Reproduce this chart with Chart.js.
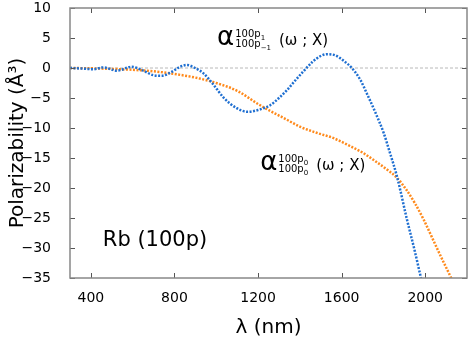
<!DOCTYPE html>
<html>
<head>
<meta charset="utf-8">
<script src="https://cdn.jsdelivr.net/npm/chart.js@4.4.1/dist/chart.umd.min.js"></script>
<style>
  html, body { margin: 0; padding: 0; background: #fff; }
  #wrap { width: 468px; height: 338px; }
</style>
</head>
<body>
<div id="wrap"><canvas id="polChart"></canvas></div>
<script>
// alpha for 100p(m=+1 / m=-1) component
const lambdaP1 = [300, 364, 412, 460, 524, 595, 651, 699, 739, 779, 827, 859, 899, 939, 987, 1034, 1098, 1150, 1200, 1258, 1300, 1338, 1380, 1416, 1460, 1500, 1530, 1570, 1610, 1649, 1690, 1720, 1760, 1801, 1830, 1865, 1913, 1950, 1980, 2010];
const alphaP1 = [0, -0.1, -0.2, 0.1, -0.45, 0.2, -0.45, -1.2, -1.3, -0.8, 0.2, 0.5, 0, -0.9, -2.8, -4.9, -6.7, -7.3, -7.0, -6.2, -5.0, -3.7, -2.0, -0.6, 1.0, 2.0, 2.3, 2.1, 1.2, 0, -2.0, -4.2, -7.3, -10.8, -14.0, -18.1, -25.3, -30.5, -35, -39];

// alpha for 100p(m=0) component
const lambdaP0 = [300, 400, 500, 600, 700, 800, 900, 1000, 1100, 1200, 1260, 1321, 1402, 1480, 1562, 1640, 1700, 1760, 1820, 1865, 1910, 1950, 1993, 2040, 2080, 2124, 2160];
const alphaP0 = [0, -0.05, -0.15, -0.3, -0.55, -1.0, -1.6, -2.5, -3.8, -6.0, -7.2, -8.3, -9.8, -10.8, -11.7, -13.0, -14.1, -15.5, -17.0, -18.3, -20.3, -22.5, -25.3, -28.8, -31.8, -35, -38];

const xTicks = [400, 800, 1200, 1600, 2000];
const yTicks = [-35, -30, -25, -20, -15, -10, -5, 0, 5, 10];

const FONT = '"DejaVu Sans", "Liberation Sans", sans-serif';

function toPoints(xs, ys) {
    return xs.map((x, i) => ({ x: x, y: ys[i] }));
}

function drawAlpha(ctx, x, b, supTail, subTail) {
    ctx.font = '26px ' + FONT;
    ctx.fillText('α', x, b);
    const w = ctx.measureText('α').width + 1;
    ctx.font = '10px ' + FONT;
    const w2 = ctx.measureText('100p').width;
    ctx.fillText('100p', x + w, b - 8);
    ctx.fillText('100p', x + w, b + 2);
    ctx.font = '7px ' + FONT;
    ctx.fillText(supTail, x + w + w2, b - 5);
    ctx.fillText(subTail, x + w + w2, b + 5);
    const w3 = Math.max(ctx.measureText(supTail).width, ctx.measureText(subTail).width);
    ctx.font = '15px ' + FONT;
    ctx.fillText('(ω ; X)', x + w + w2 + w3 + 8, b);
}

const framePlugin = {
    id: 'frame',
    beforeDatasetsDraw(chart) {
        const { ctx, chartArea: a, scales: { y } } = chart;
        const y0 = y.getPixelForValue(0);
        ctx.save();
        ctx.strokeStyle = '#b8b8b8';
        ctx.lineWidth = 1;
        ctx.setLineDash([3, 2]);
        ctx.beginPath();
        ctx.moveTo(a.left, y0);
        ctx.lineTo(a.right, y0);
        ctx.stroke();
        ctx.restore();
    },
    afterDraw(chart) {
        const { ctx, chartArea: a, scales: { x, y } } = chart;
        ctx.save();
        ctx.setLineDash([]);
        ctx.lineWidth = 1;
        ctx.strokeStyle = '#555';
        ctx.beginPath();
        xTicks.forEach(v => {
            const px = Math.round(x.getPixelForValue(v)) + 0.5;
            ctx.moveTo(px, a.bottom); ctx.lineTo(px, a.bottom - 5);
            ctx.moveTo(px, a.top); ctx.lineTo(px, a.top + 5);
        });
        yTicks.forEach(v => {
            const py = Math.round(y.getPixelForValue(v)) + 0.5;
            ctx.moveTo(a.left, py); ctx.lineTo(a.left + 5, py);
            ctx.moveTo(a.right, py); ctx.lineTo(a.right - 5, py);
        });
        ctx.stroke();
        ctx.strokeStyle = '#888';
        ctx.lineWidth = 1.5;
        ctx.strokeRect(a.left, a.top, a.right - a.left, a.bottom - a.top);

        ctx.fillStyle = '#000';
        ctx.textBaseline = 'alphabetic';
        ctx.textAlign = 'left';
        drawAlpha(ctx, x.getPixelForValue(1004), y.getPixelForValue(3.8), '1', '−1');
        drawAlpha(ctx, x.getPixelForValue(1210), y.getPixelForValue(-17), '0', '0');
        ctx.font = '21px ' + FONT;
        ctx.fillText('Rb (100p)', x.getPixelForValue(457), y.getPixelForValue(-29.6));
        ctx.restore();
    }
};

new Chart(document.getElementById('polChart'), {
    type: 'line',
    data: {
        datasets: [{
            label: 'p1',
            data: toPoints(lambdaP1, alphaP1),
            borderColor: '#1f6fd1',
            borderWidth: 2.5,
            borderDash: [2, 1.5],
            pointRadius: 0,
            cubicInterpolationMode: 'monotone',
            clip: 0
        }, {
            label: 'p0',
            data: toPoints(lambdaP0, alphaP0),
            borderColor: '#ff8a1c',
            borderWidth: 2.5,
            borderDash: [2, 1.5],
            pointRadius: 0,
            cubicInterpolationMode: 'monotone',
            clip: 0
        }]
    },
    options: {
        responsive: true,
        maintainAspectRatio: false,
        animation: false,
        layout: { padding: { top: 8, right: 1, left: 0, bottom: 0 } },
        plugins: { legend: { display: false }, tooltip: { enabled: false } },
        scales: {
            x: {
                type: 'linear',
                min: 300,
                max: 2200,
                grid: { display: false },
                border: { display: false },
                afterBuildTicks: s => { s.ticks = xTicks.map(v => ({ value: v })); },
                afterFit: s => { s.height = 60; s.paddingLeft = 0; s.paddingRight = 0; },
                ticks: {
                    color: '#000',
                    padding: 4,
                    font: { family: FONT, size: 14 },
                    callback: v => String(v)
                },
                title: {
                    display: true,
                    text: 'λ (nm)',
                    color: '#000',
                    padding: 0,
                    font: { family: FONT, size: 20, lineHeight: 1 }
                }
            },
            y: {
                min: -35,
                max: 10,
                grid: { display: false },
                border: { display: false },
                afterBuildTicks: s => { s.ticks = yTicks.map(v => ({ value: v })); },
                afterFit: s => { s.width = 70; s.paddingTop = 0; s.paddingBottom = 0; },
                ticks: {
                    color: '#000',
                    padding: 11,
                    font: { family: FONT, size: 14 },
                    callback: v => String(v).replace('-', '−')
                },
                title: {
                    display: true,
                    text: 'Polarizability (Å³)',
                    color: '#000',
                    padding: { top: 6, bottom: 0 },
                    font: { family: FONT, size: 20, lineHeight: 1.2 }
                }
            }
        }
    },
    plugins: [framePlugin]
});
</script>
</body>
</html>
